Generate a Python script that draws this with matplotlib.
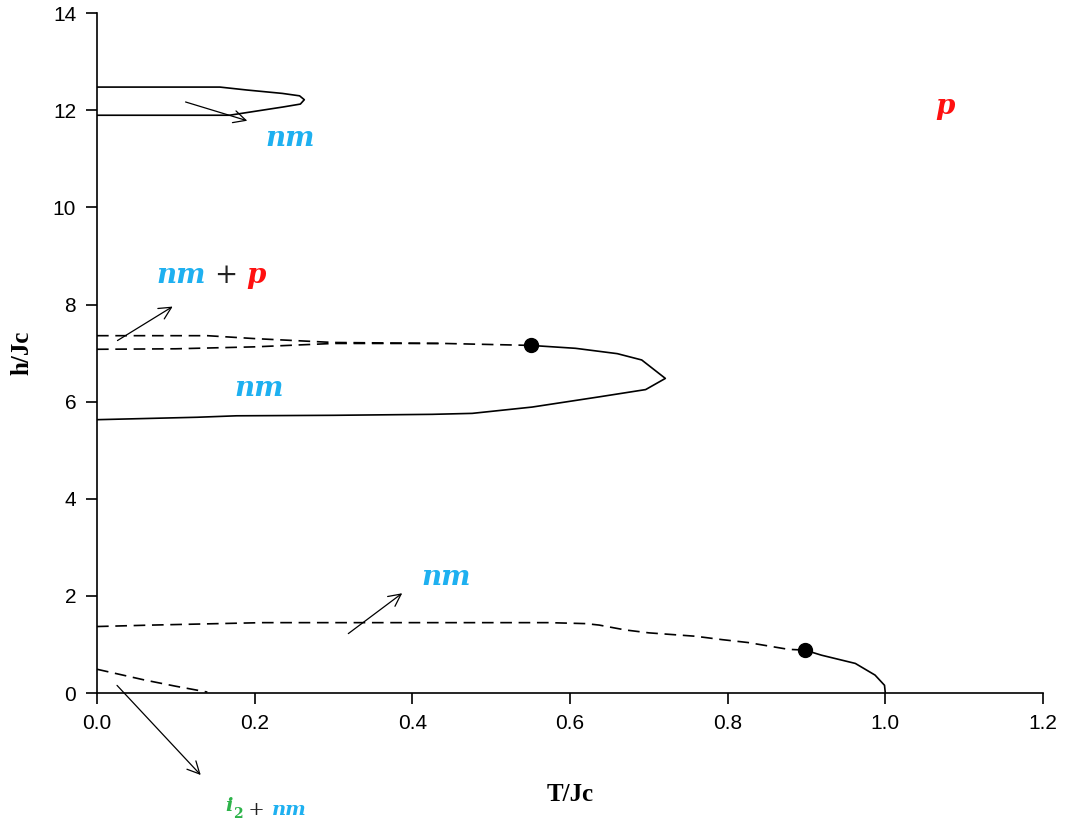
import matplotlib
matplotlib.use("Agg")
import matplotlib.pyplot as plt

# ---- phase boundaries (T/Jc, h/Jc) ----
# upper re-entrant loop near h ~ 12
top_T = [0.0, 0.156, 0.19, 0.235, 0.257, 0.263, 0.258, 0.236, 0.168, 0.0]
top_h = [12.48, 12.48, 12.42, 12.35, 12.30, 12.22, 12.13, 12.07, 11.90, 11.90]

# middle loop: first-order (dashed) parts
mid_dash_a_T = [0.0, 0.14, 0.20, 0.30, 0.44, 0.55]
mid_dash_a_h = [7.36, 7.36, 7.30, 7.22, 7.20, 7.16]
mid_dash_b_T = [0.0, 0.10, 0.20, 0.30, 0.44]
mid_dash_b_h = [7.08, 7.09, 7.13, 7.20, 7.20]
# middle loop: second-order (solid) part
mid_solid_T = [0.55, 0.607, 0.66, 0.691, 0.721, 0.696, 0.637, 0.552,
               0.476, 0.425, 0.30, 0.177, 0.127, 0.0]
mid_solid_h = [7.16, 7.10, 6.99, 6.86, 6.48, 6.25, 6.10, 5.89,
               5.76, 5.74, 5.72, 5.71, 5.68, 5.63]

# low-field boundary
low_dash_T = [0.0, 0.07, 0.21, 0.40, 0.573, 0.62, 0.637, 0.67, 0.70,
              0.759, 0.793, 0.826, 0.877, 0.898]
low_dash_h = [1.37, 1.40, 1.45, 1.45, 1.45, 1.43, 1.40, 1.30, 1.24,
              1.17, 1.10, 1.04, 0.90, 0.885]
low_solid_T = [0.898, 0.919, 0.962, 0.987, 0.999, 1.0]
low_solid_h = [0.885, 0.78, 0.61, 0.37, 0.16, 0.0]

# i2 boundary close to the origin
i2_T = [0.0, 0.03, 0.06, 0.10, 0.14]
i2_h = [0.49, 0.38, 0.27, 0.14, 0.02]

# tricritical points
tcp_T = [0.55, 0.898]
tcp_h = [7.16, 0.885]

BLUE = "#1eb0f0"
RED = "#ff1010"
GREEN = "#2db34a"

plt.rcParams["font.family"] = ["Liberation Sans", "DejaVu Sans"]

fig = plt.figure(figsize=(10.8, 8.3), dpi=100)
ax = fig.add_axes([0.0898, 0.165, 0.8759, 0.819])

dash = (0, (7, 4))
ax.plot(top_T, top_h, color="black", lw=1.2)
ax.plot(mid_dash_a_T, mid_dash_a_h, color="black", lw=1.2, ls=dash)
ax.plot(mid_dash_b_T, mid_dash_b_h, color="black", lw=1.2, ls=dash)
ax.plot(mid_solid_T, mid_solid_h, color="black", lw=1.2)
ax.plot(low_dash_T, low_dash_h, color="black", lw=1.2, ls=dash)
ax.plot(low_solid_T, low_solid_h, color="black", lw=1.2)
ax.plot(i2_T, i2_h, color="black", lw=1.2, ls=dash)
ax.plot(tcp_T, tcp_h, "o", color="black", ms=10, zorder=5)

ax.set_xlim(0, 1.2)
ax.set_ylim(0, 14)
ax.set_xticks([0.0, 0.2, 0.4, 0.6, 0.8, 1.0, 1.2])
ax.set_yticks(range(0, 15, 2))
ax.set_xticklabels([f"{v:.1f}" for v in ax.get_xticks()])
ax.spines["top"].set_visible(False)
ax.spines["right"].set_visible(False)
ax.tick_params(direction="out", length=8, width=1.2, labelsize=15,
               colors="black", pad=7)
for s in ("left", "bottom"):
    ax.spines[s].set_linewidth(1.2)

ax.set_xlabel("T/Jc", family="Liberation Serif", weight="bold", fontsize=18,
              labelpad=36)
ax.set_ylabel("h/Jc", family="Liberation Serif", weight="bold", fontsize=18,
              labelpad=14)

# arrows pointing from the boundaries to their phase labels
arr = dict(arrowstyle="->", lw=0.9, color="black", mutation_scale=22)
ax.annotate("", xy=(0.194, 11.77), xytext=(0.109, 12.19), arrowprops=arr)
ax.annotate("", xy=(0.099, 7.99), xytext=(0.023, 7.23), arrowprops=arr)
ax.annotate("", xy=(0.39, 2.09), xytext=(0.316, 1.19), arrowprops=arr)
ax.annotate("", xy=(0.134, -1.73), xytext=(0.023, 0.2), arrowprops=arr,
            annotation_clip=False)

lab = dict(family="DejaVu Serif", style="italic", weight="bold", fontsize=20)

ax.text(0.245, 11.42, "nm", color=BLUE, ha="center", va="center", **lab)
ax.text(0.206, 6.28, "nm", color=BLUE, ha="center", va="center", **lab)
ax.text(0.443, 2.38, "nm", color=BLUE, ha="center", va="center", **lab)
ax.text(1.076, 12.08, "p", color=RED, ha="center", va="center", **lab)

# two-phase labels built from coloured pieces
t1 = ax.text(0.075, 8.6, "nm", color=BLUE, ha="left", va="center", **lab)
t2 = ax.annotate(" + ", xycoords=t1, xy=(1, 0.5), va="center", color="#222222",
                 family="DejaVu Serif", fontsize=20)
ax.annotate("p", xycoords=t2, xy=(1, 0.5), va="center", color=RED, **lab)

small = dict(family="DejaVu Serif", style="italic", weight="bold", fontsize=14)
u1 = ax.text(0.163, -2.33, "i", color=GREEN, ha="left", va="center",
             clip_on=False, **small)
u2 = ax.annotate("2", xycoords=u1, xy=(1, 0.05), va="center", color=GREEN,
                 family="DejaVu Serif", weight="bold", fontsize=10)
u3 = ax.annotate(" + ", xycoords=u2, xy=(1, 0.8), va="center", color="#222222",
                 family="DejaVu Serif", fontsize=14)
ax.annotate("nm", xycoords=u3, xy=(1, 0.5), va="center", color=BLUE, **small)

fig.savefig("out.png", dpi=100)
